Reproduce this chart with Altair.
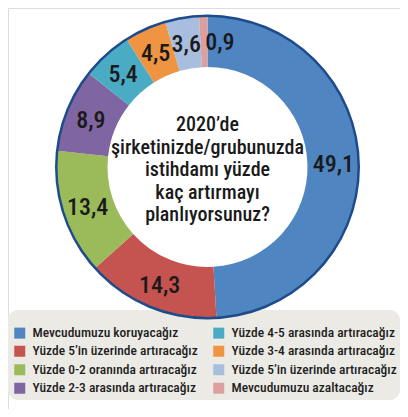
import altair as alt
import pandas as pd
import math

# ---- data ----
categories = [
    "Mevcudumuzu koruyacağız",
    "Yüzde 5’in üzerinde artıracağız",
    "Yüzde 0-2 oranında artıracağız",
    "Yüzde 2-3 arasında artıracağız",
    "Yüzde 4-5 arasında artıracağız",
    "Yüzde 3-4 arasında artıracağız",
    "Yüzde 5’in üzerinde artıracağız ",  # trailing space keeps the duplicate label distinct
    "Mevcudumuzu azaltacağız",
]
values = [49.1, 14.3, 13.4, 8.9, 5.4, 4.5, 3.6, 0.9]
value_labels = ["49,1", "14,3", "13,4", "8,9", "5,4", "4,5", "3,6", "0,9"]
colors = ["#4f85c0", "#c5534f", "#9bba5a", "#7f65a1", "#4aabc4", "#ef9443", "#a7bedf", "#dc9f9e"]
title_lines = ["2020’de", "şirketinizde/grubunuzda", "istihdamı yüzde", "kaç artırmayı", "planlıyorsunuz?"]

FONT = "Roboto Condensed, Liberation Sans Narrow, DejaVu Sans Condensed, sans-serif"
CX, CY = 199.5, 159

small = [v < 2 for v in values]
df = pd.DataFrame({
    "category": categories,
    "value": values,
    "order": list(range(len(values))),
    "lab": ["" if s else l for s, l in zip(small, value_labels)],
    "lab_small": [l if s else "" for s, l in zip(small, value_labels)],
})

bg = alt.Chart(pd.DataFrame({"a": [0]})).mark_rect(
    cornerRadius=10, color="#ebeae5"
).encode(x=alt.value(0), x2=alt.value(392), y=alt.value(302), y2=alt.value(392))

arcs = alt.Chart(df).mark_arc(radius=151, radius2=100).encode(
    theta=alt.Theta("value:Q", stack=True),
    order=alt.Order("order:Q"),
    color=alt.Color(
        "category:N",
        scale=alt.Scale(domain=categories, range=colors),
        legend=alt.Legend(
            title=None, orient="none", legendX=5, legendY=318, columns=2,
            symbolType="square", symbolSize=121, symbolStrokeWidth=0,
            labelFont=FONT, labelFontSize=13.5, labelFontWeight=500, labelColor="#1e1e1e",
            labelLimit=400, columnPadding=14, rowPadding=3.5, labelOffset=6,
        ),
    ),
    x=alt.value(CX), y=alt.value(CY),
)

ring = alt.Chart(pd.DataFrame({"a": [0]})).mark_arc(
    radius=152.5, radius2=150, color="#1d4b8c"
).encode(theta=alt.value(0), theta2=alt.value(2 * math.pi), x=alt.value(CX), y=alt.value(CY))

labels = alt.Chart(df).mark_text(
    radius=126, font=FONT, fontSize=24, fontWeight=500, color="#1a1a1a", dy=2
).encode(
    theta=alt.Theta("value:Q", stack=True),
    order=alt.Order("order:Q"),
    detail="category:N",
    text="lab:N",
    x=alt.value(CX), y=alt.value(CY),
)

labels_small = alt.Chart(df).mark_text(
    radius=126, font=FONT, fontSize=24, fontWeight=500, color="#1a1a1a", dx=16, dy=2
).encode(
    theta=alt.Theta("value:Q", stack=True),
    order=alt.Order("order:Q"),
    detail="category:N",
    text="lab_small:N",
    x=alt.value(CX), y=alt.value(CY),
)

center = alt.Chart(pd.DataFrame({"t": ["\n".join(title_lines)]})).mark_text(
    lineBreak="\n", font=FONT, fontSize=20, fontWeight=500, lineHeight=22.5, color="#1a1a1a",
    align="center", baseline="middle",
).encode(text="t:N", x=alt.value(CX), y=alt.value(117))

chart = alt.layer(bg, arcs, ring, labels, labels_small, center).properties(
    width=392, height=401, padding=0, autosize=alt.AutoSizeParams(type="none")
).configure_view(stroke=None).configure(background="white")

chart.save("out.html", embed_options={"renderer": "svg", "actions": False})
